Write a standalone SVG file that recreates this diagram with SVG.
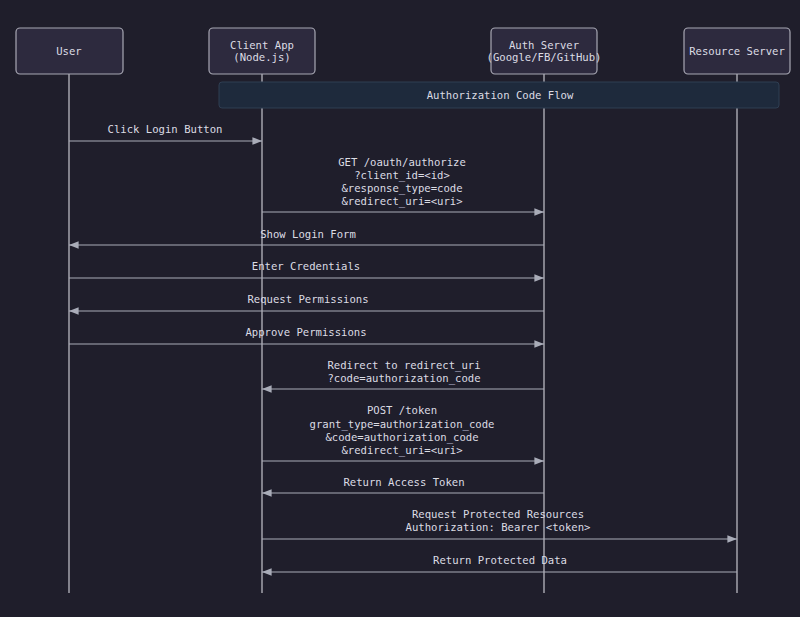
<svg xmlns="http://www.w3.org/2000/svg" width="800" height="617" viewBox="0 0 800 617">
<defs>
<marker id="ah" viewBox="0 0 10 10" refX="10" refY="5" markerWidth="8" markerHeight="8" orient="auto"><path d="M0,1 L10,5 L0,9 z" fill="#a9acb8"/></marker>
<style>
.actor{fill:#2d2a3e;stroke:#a8a8b4;stroke-width:1.2}
.life{stroke:#b8b8c0;stroke-width:1.3}
.msg{stroke:#a9acb8;stroke-width:1.2;marker-end:url(#ah)}
text{font-family:"DejaVu Sans Mono","Liberation Mono",monospace;font-size:10.6px;fill:#dcdce4;text-anchor:middle}
</style>
</defs>
<rect width="800" height="617" fill="#1f1e2b"/>
<g id="lifelines">
<line class="life" x1="69" y1="74" x2="69" y2="593"/>
<line class="life" x1="262" y1="74" x2="262" y2="593"/>
<line class="life" x1="544" y1="74" x2="544" y2="593"/>
<line class="life" x1="737" y1="74" x2="737" y2="593"/>
</g>
<g id="user"><rect class="actor" x="16" y="28" width="107" height="46" rx="4"/><text x="69" y="55">User</text></g>
<g id="client"><rect class="actor" x="209" y="28" width="106" height="46" rx="4"/><text x="262" y="49">Client App</text><text x="262" y="61">(Node.js)</text></g>
<g id="auth"><rect class="actor" x="491" y="28" width="106" height="46" rx="4"/><text x="544" y="49">Auth Server</text><text x="544" y="61">(Google/FB/GitHub)</text></g>
<g id="resource"><rect class="actor" x="684" y="28" width="106" height="46" rx="4"/><text x="737" y="55">Resource Server</text></g>
<g id="note"><rect x="219" y="82" width="560" height="26" rx="3" fill="#1e2a3c" stroke="#2f3e52"/><text x="500" y="99">Authorization Code Flow</text></g>
<g id="connectors">
<line class="msg" x1="69" y1="141" x2="262" y2="141"/><text x="165" y="133">Click Login Button</text>
<line class="msg" x1="262" y1="212" x2="544" y2="212"/><text x="402" y="166">GET /oauth/authorize</text><text x="402" y="179">?client_id=&lt;id&gt;</text><text x="402" y="192">&amp;response_type=code</text><text x="402" y="205">&amp;redirect_uri=&lt;uri&gt;</text>
<line class="msg" x1="544" y1="245" x2="69" y2="245"/><text x="308" y="238">Show Login Form</text>
<line class="msg" x1="69" y1="278" x2="544" y2="278"/><text x="306" y="270">Enter Credentials</text>
<line class="msg" x1="544" y1="311" x2="69" y2="311"/><text x="308" y="303">Request Permissions</text>
<line class="msg" x1="69" y1="344" x2="544" y2="344"/><text x="306" y="336">Approve Permissions</text>
<line class="msg" x1="544" y1="389" x2="262" y2="389"/><text x="404" y="369">Redirect to redirect_uri</text><text x="404" y="382">?code=authorization_code</text>
<line class="msg" x1="262" y1="461" x2="544" y2="461"/><text x="402" y="414">POST /token</text><text x="402" y="428">grant_type=authorization_code</text><text x="402" y="441">&amp;code=authorization_code</text><text x="402" y="454">&amp;redirect_uri=&lt;uri&gt;</text>
<line class="msg" x1="544" y1="493" x2="262" y2="493"/><text x="404" y="486">Return Access Token</text>
<line class="msg" x1="262" y1="539" x2="737" y2="539"/><text x="498" y="518">Request Protected Resources</text><text x="498" y="531">Authorization: Bearer &lt;token&gt;</text>
<line class="msg" x1="737" y1="572" x2="262" y2="572"/><text x="500" y="564">Return Protected Data</text>
</g>
</svg>
